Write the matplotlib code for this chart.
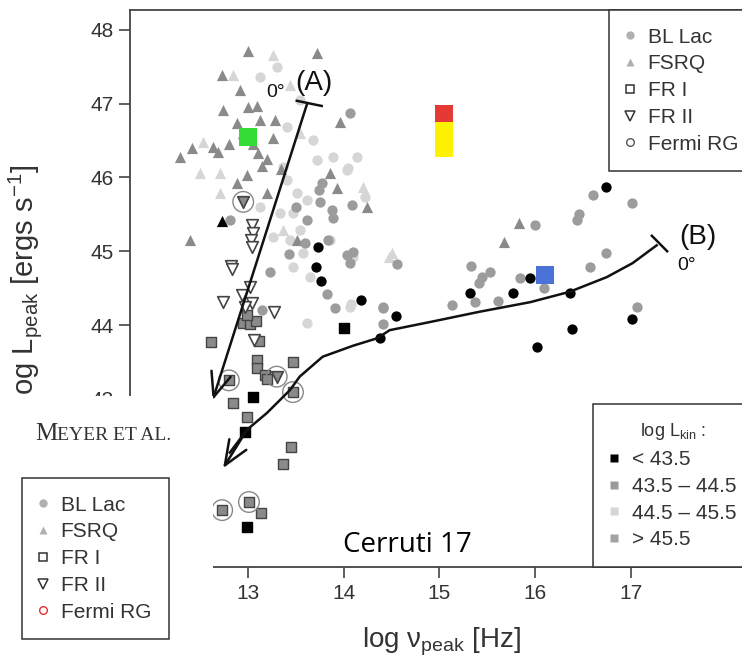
import matplotlib
matplotlib.use("Agg")
import matplotlib.pyplot as plt
from matplotlib.lines import Line2D
from matplotlib.patches import Rectangle

plt.rcParams['font.family'] = ['Liberation Sans', 'DejaVu Sans']
plt.rcParams['mathtext.fontset'] = 'custom'
plt.rcParams['mathtext.rm'] = 'Liberation Sans'
plt.rcParams['mathtext.it'] = 'Liberation Sans:italic'

# ---------------- data (log nu_peak [Hz], log L_peak [erg/s]) ----------------
bllac_gray_x = [14.07, 12.81, 13.77, 13.74, 13.75, 14.09, 13.88, 13.89, 13.62, 13.84, 13.60, 13.43,
                14.03, 14.10, 14.07, 13.83, 13.91, 14.41, 13.23, 14.56, 13.15, 13.50,
                16.60, 17.01, 16.46, 16.44, 16.00, 15.33, 15.53, 15.45, 15.41, 15.84, 16.09,
                16.74, 16.57, 15.13, 15.37, 15.61, 17.06, 14.41, 14.41]
bllac_gray_y = [46.87, 45.42, 45.92, 45.83, 45.67, 45.63, 45.56, 45.45, 45.42, 45.15, 45.11, 44.96,
                44.95, 44.99, 44.84, 44.42, 44.23, 44.23, 44.72, 44.83, 44.20, 45.60,
                45.76, 45.65, 45.50, 45.42, 45.36, 44.80, 44.72, 44.65, 44.57, 44.64, 44.50,
                44.98, 44.79, 44.27, 44.31, 44.33, 44.24, 44.24, 44.01]
bllac_light_x = [13.30, 13.13, 13.54, 13.41, 13.68, 13.72, 13.89, 14.14, 14.03, 13.37, 13.41, 13.51,
                 13.62, 14.22, 13.13, 13.33, 13.47, 13.54, 13.26, 13.44, 13.57, 13.47, 13.65,
                 13.62, 14.07, 13.86, 14.10, 14.05, 14.08]
bllac_light_y = [47.50, 47.36, 47.05, 46.68, 46.51, 46.24, 46.28, 46.28, 46.10, 46.14, 45.97, 45.79,
                 45.69, 45.74, 45.60, 45.52, 45.52, 45.29, 45.19, 45.15, 44.98, 44.79, 44.65,
                 44.03, 44.24, 45.15, 44.92, 46.13, 44.28]
bllac_black_x = [16.74, 15.32, 15.77, 15.95, 16.36, 14.55, 16.39, 17.01, 16.02, 14.38,
                 13.73, 13.71, 13.76, 14.18]
bllac_black_y = [45.87, 44.43, 44.43, 44.64, 44.43, 44.12, 43.95, 44.08, 43.70, 43.82,
                 45.06, 44.79, 44.60, 44.34]

fsrq_gray_x = [13.00, 13.72, 12.73, 12.92, 13.00, 13.09, 12.74, 12.89, 13.13, 13.28, 13.26, 12.63,
               12.41, 12.29, 12.69, 13.10, 12.99, 12.89, 13.20, 12.39, 13.86, 13.93, 14.24, 13.51,
               13.96, 12.80, 13.20, 13.35, 13.05, 12.95, 13.15, 15.83, 15.67]
fsrq_gray_y = [47.71, 47.69, 47.39, 47.18, 46.95, 46.97, 46.91, 46.74, 46.78, 46.78, 46.53, 46.41,
               46.40, 46.28, 46.34, 46.33, 46.03, 45.92, 45.79, 45.15, 46.06, 45.86, 45.60, 45.15,
               46.75, 46.45, 46.25, 46.12, 46.45, 46.60, 46.15, 45.38, 45.12]
fsrq_light_x = [13.26, 12.84, 13.44, 12.50, 12.71, 14.20, 12.71, 12.53, 14.50, 13.54, 13.37, 14.47]
fsrq_light_y = [47.66, 47.39, 47.25, 46.06, 46.06, 45.87, 45.79, 46.48, 44.98, 46.60, 45.29, 44.92]
fsrq_black_x = [12.73]
fsrq_black_y = [45.41]

fri_gray_x = [12.61, 12.95, 13.02, 13.08, 12.99, 13.11, 13.09, 13.09, 13.18, 13.20, 13.47, 12.80,
              13.47, 12.84, 12.99, 13.45, 13.37, 13.01, 12.73, 13.14]
fri_gray_y = [43.77, 44.03, 44.01, 44.05, 44.14, 43.78, 43.53, 43.42, 43.32, 43.27, 43.50, 43.25,
              43.09, 42.94, 42.75, 42.35, 42.12, 41.60, 41.49, 41.45]
fri_black_x = [14.00, 13.05, 12.97, 12.99]
fri_black_y = [43.96, 43.02, 42.55, 41.26]

frii_x = [13.04, 13.05, 13.03, 13.04, 12.82, 12.83, 13.02, 12.94, 12.74, 13.04, 13.27, 12.97, 13.06]
frii_y = [45.36, 45.25, 45.15, 45.06, 44.80, 44.76, 44.52, 44.41, 44.31, 44.30, 44.18, 44.24, 43.80]
frii_fill_x = [12.95, 13.30]
frii_fill_y = [45.67, 43.30]

fermi_x = [12.95, 12.80, 13.30, 13.47, 13.01, 12.73]
fermi_y = [45.67, 43.25, 43.30, 43.09, 41.60, 41.49]

special_x = [13.00, 15.05, 15.05, 15.05, 16.10]
special_y = [46.55, 46.86, 46.63, 46.40, 44.68]
special_c = ['#33dd33', '#e53935', '#fff200', '#fff200', '#4a72d8']

curveA_x = [13.62, 12.63]
curveA_y = [47.01, 42.98]
curveB_x = [17.27, 17.02, 16.75, 16.36, 15.95, 15.42, 14.90, 14.48, 14.35, 14.10, 13.78,
            13.54, 13.44, 13.20, 12.99, 12.81, 12.74]
curveB_y = [45.08, 44.84, 44.65, 44.45, 44.31, 44.18, 44.04, 43.93, 43.82, 43.72, 43.57,
            43.30, 43.12, 42.81, 42.58, 42.27, 42.06]

xticks = [13, 14, 15, 16, 17]
yticks = [43, 44, 45, 46, 47, 48]

# ---------------- figure ----------------
W, H = 742, 659
fig = plt.figure(figsize=(W / 100, H / 100), dpi=100)
ax = fig.add_axes([130 / W, 1 - 567 / H, 1 - 130 / W, (567 - 10) / H])
ax.set_xlim(11.767, 18.162)
ax.set_ylim(40.719, 48.271)

GRAY = '#9c9c9c'
DGRAY = '#8a8a8a'
LIGHT = '#d6d6d6'

ax.scatter(bllac_light_x, bllac_light_y, s=55, marker='o', c=LIGHT, linewidths=0, zorder=2)
ax.scatter(fsrq_light_x, fsrq_light_y, s=65, marker='^', c=LIGHT, linewidths=0, zorder=2)
ax.scatter(fsrq_gray_x, fsrq_gray_y, s=65, marker='^', c=DGRAY, linewidths=0, zorder=3)
ax.scatter(bllac_gray_x, bllac_gray_y, s=55, marker='o', c=GRAY, linewidths=0, zorder=3)
ax.scatter(bllac_black_x, bllac_black_y, s=55, marker='o', c='black', linewidths=0, zorder=4)
ax.scatter(fsrq_black_x, fsrq_black_y, s=65, marker='^', c='black', linewidths=0, zorder=4)
ax.scatter(fri_gray_x, fri_gray_y, s=42, marker='s', c=DGRAY, edgecolors='#444444', linewidths=1.0, zorder=4)
ax.scatter(fri_black_x, fri_black_y, s=42, marker='s', c='black', edgecolors='black', linewidths=1.0, zorder=4)
ax.scatter(frii_x, frii_y, s=70, marker='v', facecolors='white', edgecolors='#444444', linewidths=1.2, zorder=4)
ax.scatter(frii_fill_x, frii_fill_y, s=70, marker='v', facecolors=DGRAY, edgecolors='#444444', linewidths=1.2, zorder=4)
ax.scatter(fermi_x, fermi_y, s=220, marker='o', facecolors='none', edgecolors='#888888', linewidths=1.0, zorder=4)
ax.scatter(special_x, special_y, s=165, marker='s', c=special_c, linewidths=0, zorder=5)

# model curves
arrow_kw = dict(arrowstyle='->,head_length=1.1,head_width=0.45', lw=1.8, color='#111111',
                shrinkA=0, shrinkB=0, mutation_scale=16)
ax.annotate('', xy=(curveA_x[1], curveA_y[1]), xytext=(curveA_x[0], curveA_y[0]),
            arrowprops=arrow_kw, zorder=6)
ax.plot(curveB_x[:-1], curveB_y[:-1], color='#111111', lw=1.8, zorder=6)
ax.annotate('', xy=(curveB_x[-1], curveB_y[-1]), xytext=(curveB_x[-3], curveB_y[-3]),
            arrowprops=arrow_kw, zorder=6)
ax.plot([13.51, 13.77], [47.04, 46.97], color='#111111', lw=1.8, zorder=6)
ax.plot([17.22, 17.38], [45.21, 45.00], color='#111111', lw=1.8, zorder=6)
ax.text(13.29, 47.15, '0°', fontsize=14, ha='center', va='center', color='#111111', zorder=7)
ax.text(13.69, 47.28, '(A)', fontsize=20, ha='center', va='center', color='#111111', zorder=7)
ax.text(17.70, 45.19, '(B)', fontsize=20, ha='center', va='center', color='#111111', zorder=7)
ax.text(17.58, 44.81, '0°', fontsize=14, ha='center', va='center', color='#111111', zorder=7)

# axes styling
ax.spines['right'].set_visible(False)
for s in ['top', 'left', 'bottom']:
    ax.spines[s].set_color('#444444')
    ax.spines[s].set_linewidth(1.3)
ax.set_xticks(xticks)
ax.set_yticks(yticks)
ax.tick_params(direction='out', length=8, width=1.2, color='#444444', labelsize=15,
               labelcolor='#333333', pad=4)

leg_kw = dict(fontsize=15, labelspacing=0.37, handlelength=0.3, handletextpad=0.7,
              borderpad=0.85, borderaxespad=0, fancybox=False, framealpha=1,
              edgecolor='#333333', labelcolor='#333333')

# legends in the axes
h_type = [
    Line2D([], [], ls='none', marker='o', ms=6, mfc='#b0b0b0', mec='none'),
    Line2D([], [], ls='none', marker='^', ms=6, mfc='#b0b0b0', mec='none'),
    Line2D([], [], ls='none', marker='s', ms=5.5, mfc='white', mec='#333333', mew=1.1),
    Line2D([], [], ls='none', marker='v', ms=6.5, mfc='white', mec='#333333', mew=1.1),
    Line2D([], [], ls='none', marker='o', ms=5.5, mfc='white', mec='#555555', mew=1.0),
]
l_type = ['BL Lac', 'FSRQ', 'FR I', 'FR II', 'Fermi RG']
leg1 = ax.legend(h_type, l_type, loc='upper left', bbox_to_anchor=(609 / W, 1 - 10 / H),
                 bbox_transform=fig.transFigure, **leg_kw)
leg1.get_frame().set_linewidth(1.1)
ax.add_artist(leg1)

h_kin = [
    Line2D([], [], ls='none', marker='s', ms=6, mfc='black', mec='none'),
    Line2D([], [], ls='none', marker='s', ms=6, mfc='#9a9a9a', mec='none'),
    Line2D([], [], ls='none', marker='s', ms=6, mfc='#d6d6d6', mec='none'),
    Line2D([], [], ls='none', marker='s', ms=6, mfc='#a3a3a3', mec='none'),
]
l_kin = ['< 43.5', '43.5 – 44.5', '44.5 – 45.5', '> 45.5']
leg2 = ax.legend(h_kin, l_kin, loc='lower left', bbox_to_anchor=(593 / W, 1 - 567 / H),
                 bbox_transform=fig.transFigure, title='log L$_{\\mathregular{kin}}$ :',
                 title_fontsize=13, **leg_kw)
leg2.get_title().set_color('#333333')
leg2.get_frame().set_linewidth(1.1)

# axis labels
fig.text(25 / W, 1 - 165 / H, 'log L$_{\\mathregular{peak}}$ [ergs s$^{\\mathregular{-1}}$]',
         rotation=90, ha='center', va='top', fontsize=21, color='#333333')
fig.text(441 / W, 1 - 647 / H, 'log ν$_{\\mathregular{peak}}$ [Hz]', ha='center', va='baseline',
         fontsize=20, color='#333333')

# collage overlay (lower-left panel)
fig.patches.append(Rectangle((0, 0), 213 / W, 1 - 396 / H, transform=fig.transFigure,
                             facecolor='white', edgecolor='none', zorder=10))
fig.text(35 / W, 1 - 440 / H, 'M', fontsize=18, family='Liberation Serif', color='#333333',
         va='baseline', zorder=11)
fig.text(57 / W, 1 - 440 / H, 'EYER ET AL.', fontsize=14, family='Liberation Serif',
         color='#333333', va='baseline', zorder=11)
h_left = list(h_type)
h_left[4] = Line2D([], [], ls='none', marker='o', ms=5.5, mfc='white', mec='#e03030', mew=1.0)
leg3 = fig.legend(h_left, l_type, loc='upper left', bbox_to_anchor=(22 / W, 1 - 478 / H), **leg_kw)
leg3.get_frame().set_linewidth(1.1)
leg3.set_zorder(12)

fig.text(407 / W, 1 - 545 / H, 'Cerruti 17', fontsize=20, family='Open Sans', ha='center',
         va='center', color='black', zorder=11)

fig.savefig('out.png', dpi=100)
